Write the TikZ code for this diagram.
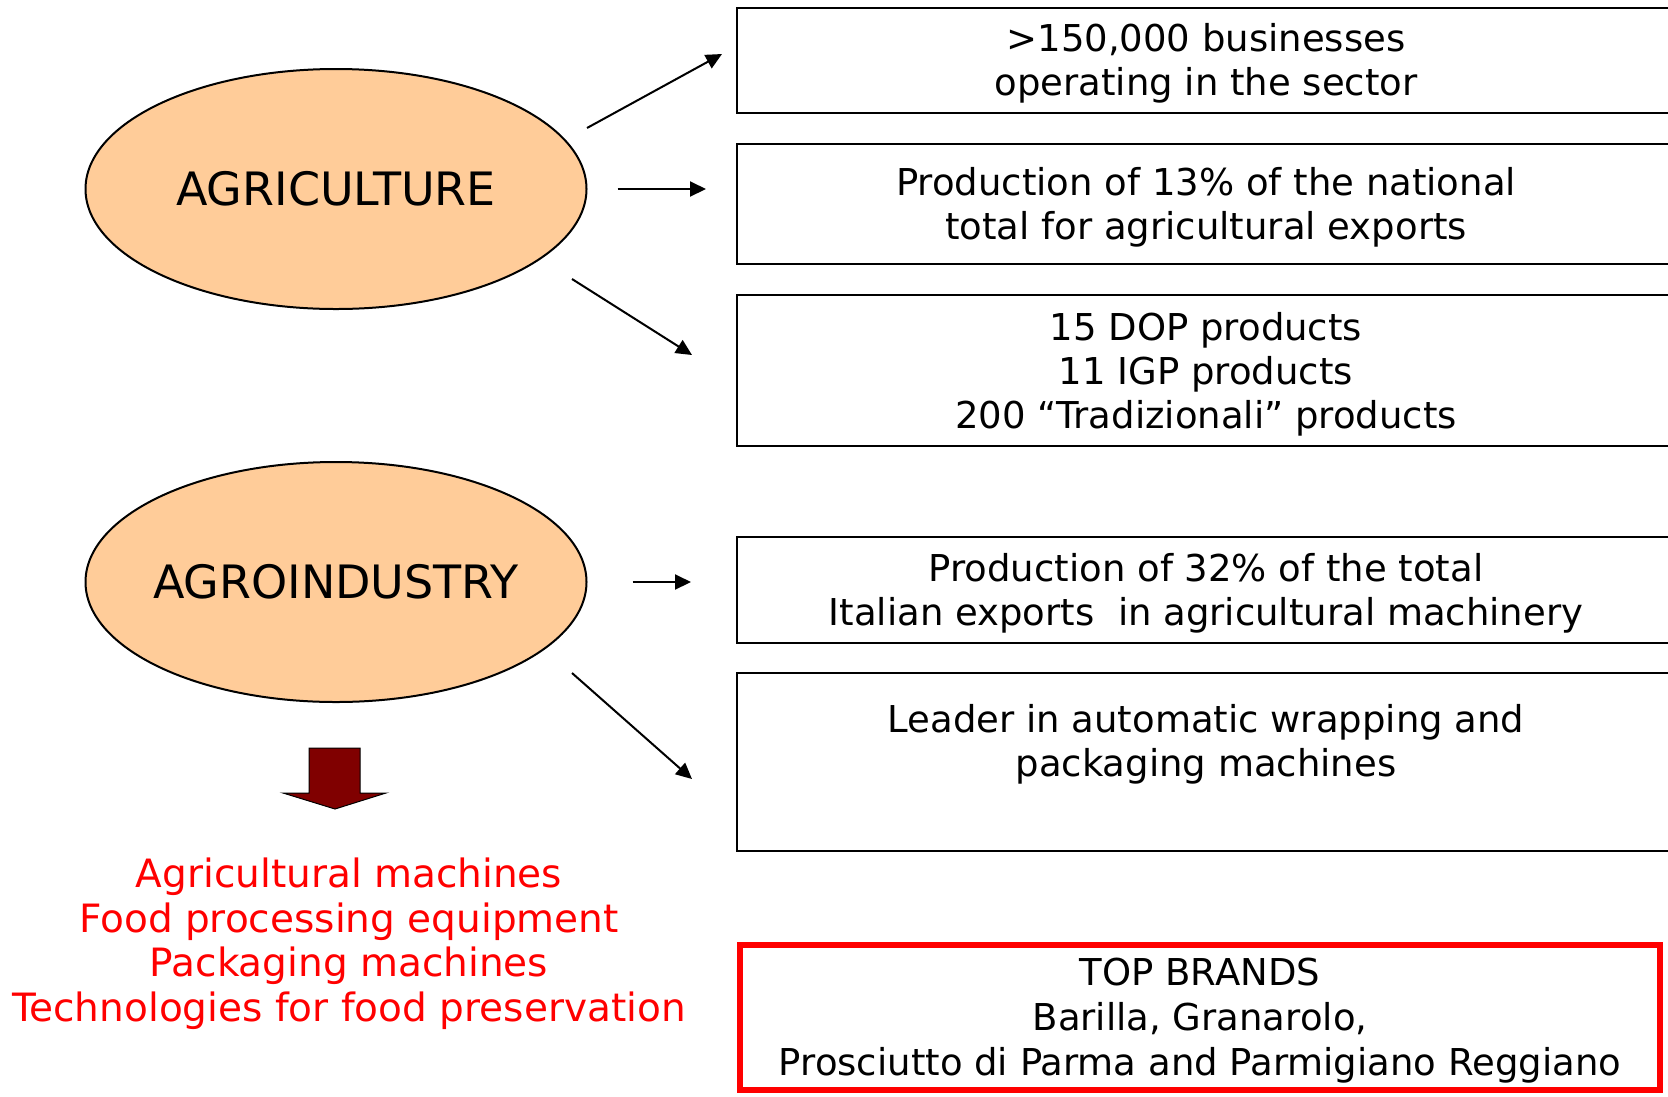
\documentclass[tikz,border=0pt]{standalone}
\usepackage{fontspec}
\setmainfont{DejaVu Sans}
\usetikzlibrary{positioning, arrows.meta, shapes.geometric}
\definecolor{Peach}{RGB}{255, 204, 153}
\definecolor{DarkRed}{RGB}{128, 0, 0}
\newcommand{\topstrut}{\rule{0pt}{35pt}}

\begin{document}
\begin{tikzpicture}[x=1pt, y=-1pt]
        \tikzstyle{oval} = [ellipse, draw, line width=2pt, fill=Peach, inner sep=0pt,
          minimum width=501pt, minimum height=240pt, font=\fontsize{46}{55}\selectfont]
        \tikzstyle{fact} = [rectangle, draw, line width=2pt, minimum width=938pt,
          align=center, font=\fontsize{37}{44}\selectfont]
        \tikzstyle{brands} = [rectangle, draw=red, line width=6pt, minimum width=920pt,
          minimum height=145pt, align=center, font=\fontsize{37}{45}\selectfont]
        \tikzstyle{link} = [line width=2pt, -{Triangle[length=16pt, width=15pt]}]

        \useasboundingbox (0,0) rectangle (1668,1096);
        \clip (0,0) rectangle (1668,1096);

        % sectors
        \node[oval] (agri) at (336, 189) {\makebox[0pt]{AGRICULTURE}};
        \node[oval] (agro) at (336, 582) {\makebox[0pt]{AGROINDUSTRY}};

        % facts
        \node[fact, minimum height=105pt] (firms) at (1206, 60)
          {\topstrut>150,000 businesses\\operating in the sector};
        \node[fact, minimum height=120pt] (share) at (1206, 204)
          {\topstrut Production of 13\% of the national\\total for agricultural exports};
        \node[fact, minimum height=151pt] (labels) at (1206, 370.5)
          {\topstrut 15 DOP products\\11 IGP products\\200 “Tradizionali” products};
        \node[fact, minimum height=106pt] (machinery) at (1206, 590)
          {\topstrut Production of 32\% of the total\\Italian exports\ \ in agricultural machinery};
        \node[fact, minimum height=178pt] (wrapping) at (1206, 762)
          {Leader in automatic wrapping and\\packaging machines\\\mbox{}};

        \node[brands] (top) at (1200, 1017)
          {\topstrut TOP BRANDS\\Barilla, Granarolo,\\Prosciutto di Parma and Parmigiano Reggiano};

        \node[align=center, text=red, font=\fontsize{39}{44.7}\selectfont] (products) at (349, 941)
          {\topstrut Agricultural machines\\Food processing equipment\\Packaging machines\\Technologies for food preservation};

        % block arrow
        \draw[fill=DarkRed, line width=1pt] (309,748) -- (360,748) -- (360,793) -- (386,793)
          -- (335,809) -- (283,793) -- (309,793) -- cycle;

        % arrows
        \coordinate (a1s) at (587, 128);
        \coordinate (a1e) at (722, 54);
        \coordinate (a3s) at (572, 279);
        \coordinate (a3e) at (692, 355);
        \coordinate (a5s) at (572, 673);
        \coordinate (a5e) at (692, 779);
        \draw[link] (a1s) -- (a1e);
        \draw[link, shorten <=30pt, shorten >=30pt] (agri.east) -- (agri.east -| share.west);
        \draw[link] (a3s) -- (a3e);
        \draw[link, shorten <=45pt, shorten >=45pt] (agro.east) -- (agro.east -| machinery.west);
        \draw[link] (a5s) -- (a5e);
      \end{tikzpicture}
\end{document}
